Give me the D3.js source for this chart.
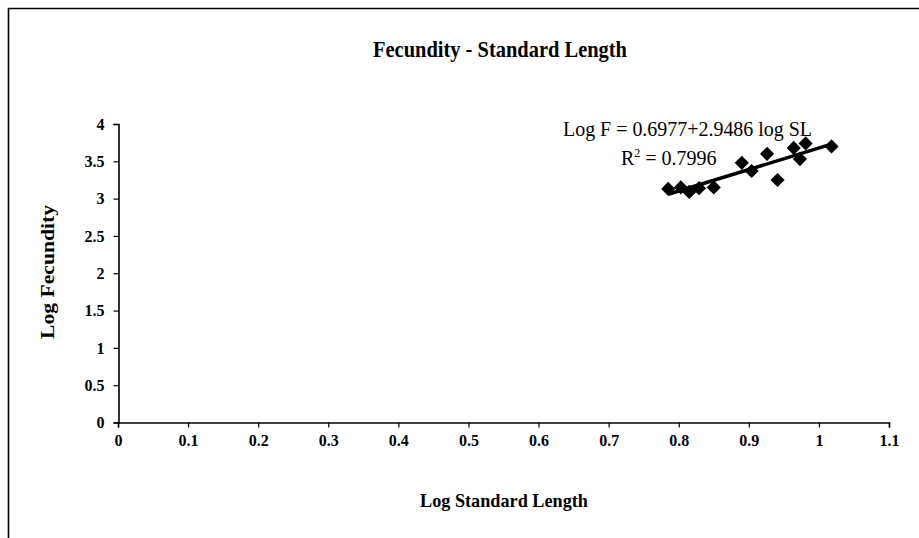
<!DOCTYPE html>
<html>
<head>
<meta charset="utf-8">
<script src="https://cdn.jsdelivr.net/npm/d3@7"></script>
<style>
  body { margin: 0; background: #fff; }
  text { font-family: "Liberation Serif", "Times New Roman", serif; fill: #000; }
</style>
</head>
<body>
<div id="chart"></div>
<script>
// log standard length / log fecundity
var logSL = [0.785, 0.803, 0.815, 0.829, 0.850, 0.890, 0.904, 0.926, 0.941, 0.964, 0.973, 0.981, 1.018];
var logF  = [3.13, 3.15, 3.09, 3.14, 3.15, 3.48, 3.37, 3.60, 3.25, 3.68, 3.53, 3.74, 3.70];
var xTicks = [0, 0.1, 0.2, 0.3, 0.4, 0.5, 0.6, 0.7, 0.8, 0.9, 1, 1.1];
var yTicks = [0, 0.5, 1, 1.5, 2, 2.5, 3, 3.5, 4];
var title = "Fecundity - Standard Length";
var eqText = "Log F =  0.6977+2.9486 log SL";
var r2Text = "0.7996";

var W = 919, H = 538;
var svg = d3.select("#chart").append("svg")
    .attr("width", W)
    .attr("height", H);

// frame (only top and left edges visible)
svg.append("path")
    .attr("d", "M8.5," + H + " V8.5 H" + W)
    .attr("fill", "none")
    .attr("stroke", "#000")
    .attr("stroke-width", 1.6);

var x = d3.scaleLinear().domain([0, 1.1]).range([118, 889]);
var y = d3.scaleLinear().domain([0, 4]).range([422.5, 124]);

var fmt = function(d){ return d3.format("")(d); };

var xAxis = svg.append("g")
    .attr("transform", "translate(0,422.5)")
    .call(d3.axisBottom(x).tickValues(xTicks).tickFormat(fmt).tickSize(5).tickPadding(7));
var yAxis = svg.append("g")
    .attr("transform", "translate(118.5,0)")
    .call(d3.axisLeft(y).tickValues(yTicks).tickFormat(fmt).tickSize(5).tickPadding(9));

[xAxis, yAxis].forEach(function(g){
    g.select(".domain").attr("stroke", "#000").attr("stroke-width", 1.6);
    g.selectAll(".tick line").attr("stroke", "#000").attr("stroke-width", 1.2);
    g.selectAll(".tick text")
        .style("font-family", "'Liberation Serif', serif")
        .style("font-size", "16px")
        .style("font-weight", "bold")
        .attr("fill", "#000");
});

// title + axis titles
svg.append("text")
    .attr("x", 500).attr("y", 57)
    .attr("text-anchor", "middle")
    .attr("textLength", 254)
    .attr("lengthAdjust", "spacingAndGlyphs")
    .style("font-size", "23px").style("font-weight", "bold")
    .text(title);

svg.append("text")
    .attr("x", 504).attr("y", 507)
    .attr("text-anchor", "middle")
    .attr("textLength", 168)
    .attr("lengthAdjust", "spacingAndGlyphs")
    .style("font-size", "19px").style("font-weight", "bold")
    .text("Log Standard Length");

svg.append("text")
    .attr("transform", "translate(54,272) rotate(-90)")
    .attr("text-anchor", "middle")
    .attr("textLength", 134)
    .attr("lengthAdjust", "spacingAndGlyphs")
    .style("font-size", "19px").style("font-weight", "bold")
    .text("Log Fecundity");

// least squares trendline from the points
var mx = d3.mean(logSL), my = d3.mean(logF);
var sxy = d3.sum(logSL, function(d, i){ return (d - mx) * (logF[i] - my); });
var sxx = d3.sum(logSL, function(d){ return (d - mx) * (d - mx); });
var slope = sxy / sxx, icpt = my - slope * mx;
var xr = d3.extent(logSL);

svg.append("line")
    .attr("x1", x(xr[0])).attr("y1", y(icpt + slope * xr[0]))
    .attr("x2", x(xr[1])).attr("y2", y(icpt + slope * xr[1]))
    .attr("stroke", "#000")
    .attr("stroke-width", 3.5);

// diamond markers
svg.selectAll(".pt")
    .data(logSL)
    .enter().append("path")
    .attr("class", "pt")
    .attr("d", d3.symbol().type(d3.symbolSquare).size(100))
    .attr("transform", function(d, i){
        return "translate(" + x(d) + "," + y(logF[i]) + ") rotate(45)";
    })
    .attr("fill", "#000");

// equation labels
svg.append("text")
    .attr("x", 563).attr("y", 136)
    .attr("textLength", 249)
    .attr("lengthAdjust", "spacingAndGlyphs")
    .style("font-size", "20px")
    .text(eqText);

var r2 = svg.append("text")
    .attr("x", 621).attr("y", 165)
    .style("font-size", "20px");
r2.append("tspan").text("R");
r2.append("tspan").attr("dy", -8).style("font-size", "12px").text("2");
r2.append("tspan").attr("dy", 8).text(" = " + r2Text);
</script>
</body>
</html>
